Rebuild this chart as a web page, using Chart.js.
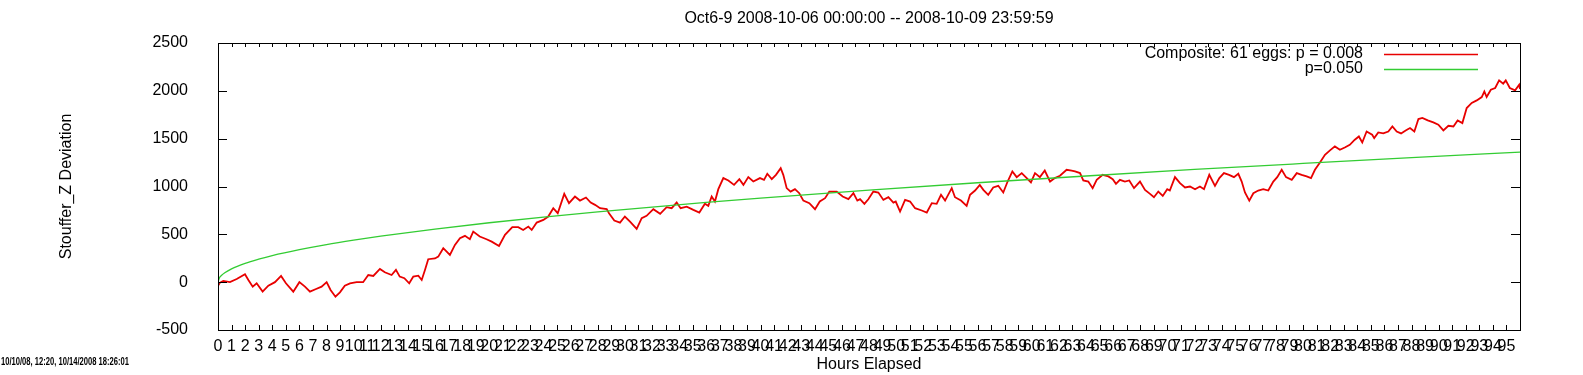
<!DOCTYPE html>
<html>
<head>
<meta charset="utf-8">
<script src="https://cdn.jsdelivr.net/npm/chart.js@4/dist/chart.umd.min.js"></script>
<style>
  body { margin: 0; background: #fff; }
  #wrap { position: relative; width: 1583px; height: 375px; }
</style>
</head>
<body>
<div id="wrap"><canvas id="egg-chart"></canvas></div>
<script>
// Composite deviation (hours elapsed -> Stouffer Z cumulative deviation)
const hoursRed = [
  0, 0.07, 0.39, 0.88, 1.38, 1.99, 2.24, 2.56, 2.85, 3.29, 3.71, 4.2, 4.65, 5.01, 5.55, 6.0, 6.41, 6.78, 7.23, 7.64,
  8.01, 8.3, 8.66, 8.99, 9.35, 9.73, 10.22, 10.7, 11.08, 11.45, 11.94, 12.3, 12.8, 13.12, 13.4, 13.74, 14.1, 14.4, 14.77, 15.02,
  15.26, 15.5, 16.0, 16.24, 16.61, 17.1, 17.47, 17.84, 18.21, 18.57, 18.82, 19.3, 19.8, 20.18, 20.72, 21.16, 21.7, 22.14, 22.5, 22.88,
  23.13, 23.5, 23.99, 24.35, 24.72, 25.05, 25.53, 25.88, 26.32, 26.69, 27.13, 27.48, 27.8, 28.17, 28.66, 28.83, 29.22, 29.64, 30.0, 30.38,
  30.87, 31.24, 31.6, 32.1, 32.6, 33.08, 33.45, 33.82, 34.11, 34.56, 35.05, 35.49, 35.9, 36.15, 36.4, 36.64, 36.89, 37.26, 37.63, 38.05,
  38.44, 38.74, 39.1, 39.47, 39.96, 40.26, 40.5, 40.83, 41.14, 41.49, 41.68, 41.93, 42.22, 42.54, 42.86, 43.16, 43.6, 44.02, 44.37, 44.76,
  45.07, 45.62, 46.06, 46.48, 46.85, 47.14, 47.34, 47.66, 47.95, 48.32, 48.69, 49.06, 49.43, 49.8, 49.97, 50.29, 50.66, 51.03, 51.4, 51.89,
  52.26, 52.63, 52.99, 53.31, 53.61, 54.1, 54.34, 54.78, 55.2, 55.45, 55.82, 56.17, 56.43, 56.79, 57.16, 57.53, 57.9, 58.22, 58.57, 58.89,
  59.26, 59.63, 59.94, 60.24, 60.6, 60.96, 61.35, 61.7, 62.08, 62.57, 62.94, 63.19, 63.56, 63.8, 64.17, 64.49, 64.79, 65.23, 65.65, 65.97,
  66.21, 66.5, 66.87, 67.19, 67.54, 67.98, 68.35, 68.72, 69.01, 69.33, 69.66, 69.99, 70.18, 70.56, 70.93, 71.3, 71.67, 72.04, 72.4, 72.7,
  73.09, 73.51, 73.83, 74.17, 74.55, 74.91, 75.23, 75.48, 75.72, 76.04, 76.34, 76.7, 77.07, 77.44, 77.81, 78.1, 78.43, 78.75, 79.17, 79.54,
  79.9, 80.27, 80.59, 80.88, 81.25, 81.62, 81.99, 82.35, 82.72, 83.08, 83.45, 83.82, 84.12, 84.37, 84.69, 85.1, 85.25, 85.55, 85.92, 86.29,
  86.59, 86.91, 87.23, 87.57, 87.89, 88.21, 88.51, 88.8, 89.2, 89.61, 89.98, 90.35, 90.72, 91.09, 91.4, 91.75, 92.07, 92.44, 92.81, 93.18,
  93.37, 93.54, 93.85, 94.17, 94.46, 94.76, 94.95, 95.25, 95.64, 95.94, 96
];
const devRed = [
  0, -12, 13, 0, 33, 82, 23, -47, -12, -99, -36, 0, 65, -12, -99, 0, -47, -99, -71, -47,
  0, -82, -152, -106, -36, -12, 0, 0, 75, 65, 138, 103, 75, 128, 58, 41, -12, 58, 68, 23,
  128, 240, 248, 267, 355, 285, 389, 459, 484, 449, 529, 477, 449, 424, 379, 494, 575, 575, 546, 581,
  546, 623, 651, 686, 773, 721, 923, 826, 895, 853, 885, 832, 808, 773, 763, 721, 644, 623, 686, 633,
  557, 669, 693, 763, 714, 784, 773, 832, 773, 790, 756, 728, 819, 798, 895, 843, 972, 1088, 1063, 1017,
  1077, 1017, 1098, 1052, 1088, 1070, 1133, 1077, 1122, 1192, 1122, 983, 947, 972, 930, 853, 826, 763, 843, 878,
  947, 947, 895, 868, 930, 853, 867, 819, 867, 947, 937, 860, 888, 832, 843, 738, 860, 843, 773, 749,
  728, 826, 819, 913, 853, 983, 888, 853, 798, 913, 958, 1017, 965, 913, 990, 1007, 937, 1052, 1157, 1098,
  1140, 1088, 1042, 1140, 1098, 1167, 1052, 1088, 1112, 1175, 1167, 1157, 1140, 1063, 1052, 983, 1070, 1122, 1105, 1077,
  1028, 1070, 1052, 1063, 983, 1052, 965, 923, 888, 947, 902, 972, 958, 1098, 1035, 990, 1000, 972, 1000, 972,
  1122, 1007, 1088, 1140, 1122, 1098, 1133, 1052, 937, 853, 930, 958, 972, 958, 1052, 1098, 1175, 1098, 1070, 1140,
  1122, 1105, 1088, 1175, 1251, 1332, 1377, 1419, 1384, 1408, 1436, 1489, 1523, 1460, 1575, 1541, 1506, 1565, 1555, 1575,
  1628, 1575, 1555, 1586, 1611, 1575, 1705, 1716, 1691, 1670, 1646, 1586, 1635, 1628, 1691, 1663, 1820, 1873, 1900, 1935,
  1994, 1935, 2012, 2030, 2109, 2075, 2109, 2030, 2005, 2064, 2019
];

// p=0.050 envelope
const hoursP05 = [0, 0.1, 0.25, 0.5, 1, 2, 3, 4, 6, 8, 10, 12, 16, 20, 24, 28, 32, 36, 40, 48, 56, 64, 72, 80, 88, 96];
const devP05 = [0, 44, 69, 98, 139, 196, 240, 278, 340, 393, 439, 481, 555, 621, 680, 734, 785, 833, 878, 962, 1039, 1110, 1178, 1241, 1302, 1360];

const yTicks = [-500, 0, 500, 1000, 1500, 2000, 2500];
const hourTicks = [];
for (let h = 0; h <= 95; h++) hourTicks.push(h);

const titleText = 'Oct6-9 2008-10-06 00:00:00 -- 2008-10-09 23:59:59';
const legendLabels = ['Composite: 61 eggs: p = 0.008', 'p=0.050'];
const xTitle = 'Hours Elapsed';
const yTitle = 'Stouffer_Z Deviation';
const stampText = '10/10/08, 12:20, 10/14/2008 18:26:01';

const RED = '#e80000';
const GREEN = '#33cc33';
const FONT = '"Liberation Sans", Arial, sans-serif';

// gnuplot-ish frame, inward ticks and texts
const framePlugin = {
    id: 'frame',
    afterDraw(chart) {
        const ctx = chart.ctx;
        const a = chart.chartArea;
        const xs = chart.scales.x;
        const ys = chart.scales.y;
        ctx.save();
        ctx.strokeStyle = '#000';
        ctx.lineWidth = 1;
        ctx.strokeRect(Math.round(a.left) + 0.5, Math.round(a.top) + 0.5,
            Math.round(a.right - a.left), Math.round(a.bottom - a.top));

        ctx.beginPath();
        hourTicks.forEach(function (h) {
            const px = Math.round(xs.getPixelForValue(h)) + 0.5;
            ctx.moveTo(px, a.bottom); ctx.lineTo(px, a.bottom - 5);
            ctx.moveTo(px, a.top); ctx.lineTo(px, a.top + 4);
        });
        yTicks.forEach(function (v) {
            const py = Math.round(ys.getPixelForValue(v)) + 0.5;
            ctx.moveTo(a.left, py); ctx.lineTo(a.left + 9, py);
            ctx.moveTo(a.right, py); ctx.lineTo(a.right - 9, py);
        });
        ctx.stroke();

        ctx.fillStyle = '#000';
        ctx.font = '16px ' + FONT;
        ctx.textBaseline = 'middle';
        ctx.textAlign = 'center';
        const cx = (a.left + a.right) / 2;
        ctx.fillText(titleText, cx, 19);
        ctx.fillText(xTitle, cx, 365);

        ctx.save();
        ctx.translate(67, (a.top + a.bottom) / 2);
        ctx.rotate(-Math.PI / 2);
        ctx.fillText(yTitle, 0, 0);
        ctx.restore();

        // legend
        const colors = [RED, GREEN];
        ctx.textAlign = 'right';
        legendLabels.forEach(function (lbl, i) {
            const ly = 54 + i * 15;
            ctx.fillText(lbl, 1363, ly);
            ctx.strokeStyle = colors[i];
            ctx.lineWidth = 1.3;
            ctx.beginPath();
            ctx.moveTo(1384, ly + 0.5);
            ctx.lineTo(1478, ly + 0.5);
            ctx.stroke();
        });

        // tiny timestamp in the corner
        ctx.textAlign = 'left';
        ctx.font = 'bold 10px ' + FONT;
        ctx.fillText(stampText, 1, 362, 128);
        ctx.restore();
    }
};

const redPoints = hoursRed.map(function (h, i) { return { x: h, y: devRed[i] }; });
const greenPoints = hoursP05.map(function (h, i) { return { x: h, y: devP05[i] }; });

const eggChart = new Chart(document.getElementById('egg-chart').getContext('2d'), {
    type: 'line',
    data: {
        datasets: [{
            label: legendLabels[0],
            data: redPoints,
            borderColor: RED,
            borderWidth: 1.8,
            pointRadius: 0,
            tension: 0,
            order: 1
        }, {
            label: legendLabels[1],
            data: greenPoints,
            borderColor: GREEN,
            borderWidth: 1.3,
            pointRadius: 0,
            cubicInterpolationMode: 'monotone',
            order: 0
        }]
    },
    options: {
        responsive: true,
        maintainAspectRatio: false,
        animation: false,
        layout: { padding: { left: 0, right: 63, top: 43, bottom: 0 } },
        plugins: {
            legend: { display: false },
            title: { display: false },
            tooltip: { enabled: false }
        },
        scales: {
            x: {
                type: 'linear',
                min: 0,
                max: 96,
                afterFit: function (s) { s.height = 45; },
                afterBuildTicks: function (s) { s.ticks = hourTicks.map(function (v) { return { value: v }; }); },
                ticks: {
                    autoSkip: false,
                    maxRotation: 0,
                    minRotation: 0,
                    padding: -1,
                    color: '#000',
                    font: { family: FONT, size: 16 },
                    callback: function (v) { return String(v); }
                },
                grid: { display: false },
                border: { display: false }
            },
            y: {
                min: -500,
                max: 2500,
                afterFit: function (s) { s.width = 218; },
                afterBuildTicks: function (s) { s.ticks = yTicks.map(function (v) { return { value: v }; }); },
                ticks: {
                    padding: 22,
                    color: '#000',
                    font: { family: FONT, size: 16 },
                    callback: function (v) { return String(v); }
                },
                grid: { display: false },
                border: { display: false }
            }
        }
    },
    plugins: [framePlugin]
});
</script>
</body>
</html>
